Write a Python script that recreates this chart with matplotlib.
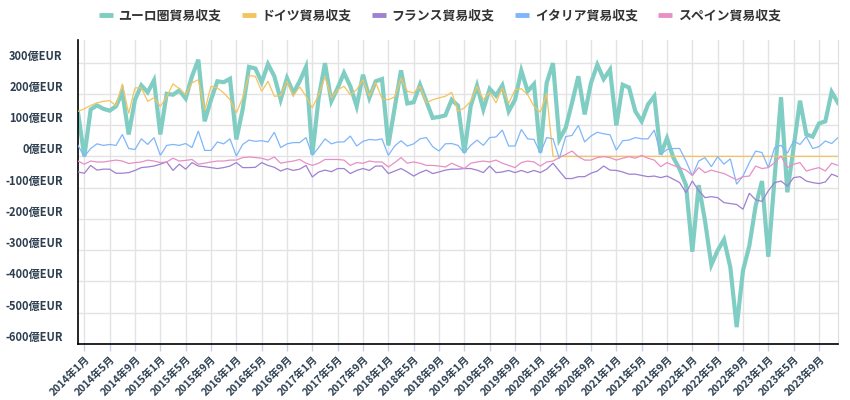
import matplotlib
matplotlib.use("Agg")
import matplotlib.pyplot as plt
from matplotlib.lines import Line2D

plt.rcParams["font.family"] = ["Noto Sans CJK JP", "DejaVu Sans"]

# monthly trade balance, 億EUR, 2013-12 .. 2023-12
euro_area = [140, 0, 150, 163, 152, 146, 160, 205, 70, 181,
             227, 205, 243, 70, 200, 197, 211, 185, 256, 309,
             112, 181, 240, 237, 248, 54, 150, 286, 281, 237,
             295, 256, 181, 250, 203, 240, 286, 6, 187, 298,
             176, 219, 267, 224, 160, 261, 187, 240, 247, 35,
             155, 275, 169, 173, 229, 176, 123, 126, 131, 181,
             162, 12, 160, 226, 150, 216, 194, 227, 144, 181,
             274, 208, 231, 12, 235, 298, 54, 91, 171, 256,
             134, 235, 293, 247, 277, 99, 229, 220, 144, 112,
             166, 192, 6, 58, -4, -41, -92, -305, -92, -206,
             -347, -301, -266, -355, -546, -365, -286, -158, -79, -321,
             -66, 189, -115, 30, 178, 70, 63, 105, 112, 206,
             171]
germany = [144, 152, 163, 171, 176, 178, 162, 232, 137, 219,
           219, 176, 187, 160, 190, 232, 216, 197, 235, 245,
           147, 224, 219, 203, 181, 139, 187, 258, 256, 208,
           240, 192, 194, 240, 194, 222, 192, 155, 197, 254,
           187, 213, 224, 197, 213, 245, 192, 237, 184, 181,
           190, 250, 208, 203, 224, 171, 181, 187, 192, 205,
           144, 155, 176, 224, 181, 205, 171, 219, 169, 213,
           216, 197, 160, 141, 201] + [0] * 46
france = [-50, -54, -29, -44, -41, -41, -54, -54, -52, -45,
          -36, -34, -31, -25, -18, -45, -25, -41, -20, -31,
          -33, -36, -39, -36, -31, -20, -36, -36, -35, -20,
          -29, -35, -47, -39, -45, -41, -29, -66, -50, -44,
          -49, -39, -39, -55, -45, -39, -45, -31, -31, -55,
          -47, -39, -50, -63, -52, -44, -55, -50, -44, -41,
          -41, -39, -39, -44, -52, -31, -52, -50, -45, -52,
          -45, -52, -45, -52, -41, -22, -47, -71, -71, -65,
          -65, -54, -47, -31, -44, -45, -50, -57, -57, -61,
          -65, -63, -68, -63, -73, -84, -116, -79, -110, -132,
          -129, -132, -148, -151, -154, -169, -118, -139, -144, -110,
          -84, -79, -95, -68, -65, -79, -84, -87, -82, -57,
          -65]
italy = [35, -1, 25, 40, 35, 38, 35, 70, 25, 22,
         56, 38, 60, 3, 35, 38, 35, 41, 28, 81,
         19, 19, 46, 40, 56, 1, 38, 52, 48, 50,
         46, 77, 28, 40, 44, 44, 60, 3, 28, 56,
         40, 46, 46, 65, 33, 48, 54, 52, 56, 3,
         33, 50, 33, 40, 56, 60, 31, 17, 40, 41,
         35, 10, 35, 52, 35, 60, 62, 84, 33, 33,
         86, 56, 54, 10, 60, 56, -7, 63, 67, 99,
         46, 65, 77, 72, 69, 20, 50, 52, 60, 56,
         56, 84, 6, 22, 25, 25, -15, -62, -15, -4,
         -33, -1, -25, -8, -89, -63, -20, 17, 12, -36,
         28, 35, 10, 49, 38, 63, 25, 31, 49, 41,
         60]
spain = [-15, -25, -15, -18, -18, -15, -12, -15, -23, -20,
         -18, -12, -15, -20, -18, -6, -15, -13, -10, -25,
         -22, -18, -15, -15, -12, -12, -4, -2, -4, -6,
         -12, -2, -22, -18, -15, -10, -22, -29, -22, -10,
         -10, -10, -12, -29, -20, -22, -15, -18, -18, -34,
         -20, -4, -22, -18, -22, -29, -29, -31, -34, -22,
         -31, -39, -22, -18, -15, -18, -12, -22, -29, -36,
         -20, -15, -18, -31, -18, -15, -4, 6, 17, -1,
         -12, -12, -4, -1, -4, -12, -6, -1, -6, 3,
         -6, -12, -33, -20, -29, -36, -44, -61, -36, -52,
         -44, -50, -55, -65, -75, -65, -63, -31, -39, -36,
         -20, 1, -36, -25, -20, -47, -41, -36, -47, -22,
         -29]

series_names = ["ユーロ圏貿易収支", "ドイツ貿易収支", "フランス貿易収支",
                "イタリア貿易収支", "スペイン貿易収支"]
series_colors = ["#80cdc3", "#f5c35e", "#9f80d2", "#7fb6fb", "#e88fc6"]
series_widths = [3.0, 0.9, 0.9, 0.9, 0.9]
y_ticks = [300, 200, 100, 0, -100, -200, -300, -400, -500, -600]

# month labels starting at 2013-12
months = []
for i in range(len(euro_area)):
    m = i + 11
    months.append((2013 + m // 12, m % 12 + 1))
tick_idx = [i for i, (y, mo) in enumerate(months) if mo in (1, 5, 9) and y >= 2014]
tick_lab = [f"{months[i][0]}年{months[i][1]}月" for i in tick_idx]

fig = plt.figure(figsize=(8.5, 4), dpi=100)
ax = fig.add_axes([78 / 850, 56 / 400, 760 / 850, 304 / 400])

x = list(range(len(euro_area)))
all_series = [euro_area, germany, france, italy, spain]
for s, c, w, z in zip(all_series, series_colors, series_widths, [2, 3, 3, 3, 3]):
    ax.plot(x, s, color=c, lw=w, zorder=z, solid_joinstyle="miter")

ax.set_xlim(0, len(euro_area) - 1)
ax.set_ylim(-600, 372)

ax.set_yticks(y_ticks)
ax.set_yticklabels([f"{v}億EUR" for v in y_ticks], fontsize=8, fontweight="bold",
                   color="#2c3e50", va="bottom")
ax.tick_params(axis="y", length=0, pad=11)

ax.set_xticks(tick_idx)
ax.set_xticklabels(tick_lab, rotation=45, ha="right", rotation_mode="anchor",
                   fontsize=7.5, fontweight="bold", color="#2c3e50")
ax.tick_params(axis="x", length=5, width=1, color="#c5d2e3", pad=2)

ax.grid(True, color="#e3e3e3", lw=1)
ax.set_axisbelow(True)
for side in ("top",):
    ax.spines[side].set_visible(False)
ax.spines["right"].set_color("#dddddd")
ax.spines["left"].set_color("black")
ax.spines["bottom"].set_color("black")
ax.spines["left"].set_linewidth(1.2)
ax.spines["bottom"].set_linewidth(1.2)

handles = [Line2D([], [], color=c, lw=3.5, solid_capstyle="butt") for c in series_colors]
fig.legend(handles, series_names, loc="center", bbox_to_anchor=(440 / 850, 1 - 16 / 400),
           ncol=5, frameon=False, handlelength=1.05, handletextpad=0.45,
           columnspacing=1.6, prop={"size": 9.3, "weight": "bold"}, labelcolor="#333333")

fig.savefig("out.png", dpi=100)
